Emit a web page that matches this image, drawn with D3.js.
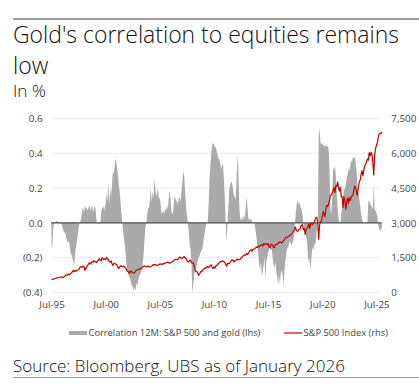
<!DOCTYPE html>
<html>
<head>
<meta charset="utf-8">
<script src="https://cdn.jsdelivr.net/npm/d3@7"></script>
<style>
  html, body { margin: 0; padding: 0; background: #fff; }
  svg { display: block; font-family: "Open Sans", "Noto Sans", sans-serif; }
</style>
</head>
<body>
<script>
// ---------- DATA ----------
const startMonth = "1995-07";           // first monthly observation
const titleLines = ["Gold's correlation to equities remains", "low"];
const subtitle = "In %";
const sourceText = "Source: Bloomberg, UBS as of January 2026";
const seriesNames = ["Correlation 12M: S&P 500 and gold (lhs)", "S&P 500 Index (rhs)"];

// 12M rolling correlation S&P 500 vs gold (monthly, Jul-1995 .. Jan-2026)
const corr = [
  -0.15, -0.12, -0.02, 0.0, 0.005, 0.01,                                   // 1995 H2
  0.01, 0.005, 0.0, -0.005, 0.005, 0.0, -0.02, -0.04, -0.06, -0.05, -0.08, -0.10, // 1996
  -0.12, -0.10, -0.13, -0.17, -0.18, -0.20, -0.22, -0.25, -0.18, -0.14, -0.11, -0.07, // 1997
  -0.03, 0.0, 0.01, 0.03, 0.07, 0.09, 0.06, 0.10, 0.08, 0.09, 0.07, 0.09,     // 1998
  0.10, 0.07, 0.09, 0.10, 0.06, 0.08, 0.10, 0.07, 0.0, -0.005, 0.0, -0.005,   // 1999
  0.0, 0.06, 0.09, 0.08, 0.10, 0.07, 0.12, 0.17, 0.12, 0.23, 0.10, 0.20,      // 2000
  0.15, 0.22, 0.30, 0.28, 0.33, 0.37, 0.34, 0.30, 0.25, 0.20, 0.15, 0.08,     // 2001
  0.02, -0.03, -0.08, -0.12, -0.17, -0.24, -0.28, -0.29, -0.31, -0.32, -0.34, -0.36, // 2002
  -0.37, -0.39, -0.37, -0.39, -0.35, -0.36, -0.33, -0.31, -0.30, -0.29, -0.27, -0.24, // 2003
  -0.18, -0.10, -0.03, 0.0, 0.05, 0.09, 0.08, 0.13, 0.20, 0.12, 0.18, 0.14,  // 2004
  0.25, 0.20, 0.15, 0.17, 0.20, 0.13, 0.15, 0.10, 0.05, 0.06, 0.07, 0.05,     // 2005
  0.08, 0.07, 0.10, 0.08, 0.15, 0.19, 0.12, 0.06, 0.05, 0.08, 0.14, 0.15,     // 2006
  0.12, 0.13, 0.10, 0.14, 0.15, 0.12, 0.18, 0.24, 0.30, 0.27, 0.18, 0.10,     // 2007
  0.04, 0.0, -0.05, -0.12, -0.15, -0.22, -0.40, -0.36, -0.30, -0.27, -0.26, -0.24, // 2008
  -0.22, -0.20, -0.19, -0.17, -0.16, -0.15, -0.12, -0.08, -0.05, -0.01, 0.0, 0.0, // 2009
  0.10, 0.25, 0.33, 0.40, 0.44, 0.46, 0.45, 0.43, 0.44, 0.41, 0.39, 0.37,     // 2010
  0.36, 0.34, 0.31, 0.33, 0.34, 0.25, 0.15, 0.0, -0.11, 0.0, 0.10, 0.20,      // 2011
  0.22, 0.24, 0.23, 0.20, 0.16, 0.15, 0.13, 0.25, 0.39, 0.30, 0.10, 0.02,     // 2012
  0.02, 0.04, 0.01, 0.05, 0.02, 0.08, 0.15, 0.10, 0.03, 0.01, 0.03, 0.02,     // 2013
  0.01, 0.0, 0.005, 0.0, -0.04, -0.08, -0.13, -0.17, -0.24, -0.27, -0.22, -0.31, // 2014
  -0.28, -0.24, -0.20, -0.33, -0.22, -0.20, -0.17, -0.15, -0.14, -0.16, -0.15, -0.20, // 2015
  -0.24, -0.26, -0.22, -0.28, -0.31, -0.36, -0.30, -0.35, -0.29, -0.27, -0.30, -0.36, // 2016
  -0.28, -0.22, -0.18, -0.14, -0.15, -0.12, -0.10, -0.12, -0.13, -0.11, -0.10, -0.06, // 2017
  0.02, 0.08, 0.12, 0.13, 0.10, 0.12, 0.09, 0.08, 0.05, 0.0, -0.03, -0.06,    // 2018
  -0.08, -0.10, -0.18, -0.23, -0.20, -0.27, -0.20, -0.14, -0.16, -0.12, -0.13, -0.10, // 2019
  -0.03, 0.0, 0.50, 0.54, 0.46, 0.45, 0.46, 0.44, 0.45, 0.43, 0.45, 0.44,    // 2020
  0.44, 0.42, 0.30, 0.08, 0.05, 0.15, 0.32, 0.30, 0.33, 0.27, 0.18, 0.08,     // 2021
  0.03, 0.0, 0.0, 0.05, 0.10, 0.15, 0.18, 0.20, 0.22, 0.25, 0.28, 0.31,       // 2022
  0.30, 0.33, 0.36, 0.35, 0.38, 0.37, 0.38, 0.34, 0.30, 0.20, 0.17, 0.14,     // 2023
  0.10, 0.05, 0.03, 0.0, 0.0, 0.0, 0.0, 0.005, 0.0, 0.12, 0.13, 0.11,         // 2024
  0.10, 0.09, 0.08, 0.22, 0.08, 0.07, 0.06, 0.04, -0.01, -0.03, -0.05, -0.04, // 2025
  -0.03                                                                        // 2026 Jan
];

// S&P 500 index level (monthly, Jul-1995 .. Jan-2026)
const spx = [
  562, 562, 584, 582, 605, 616,                                               // 1995 H2
  636, 640, 646, 654, 669, 671, 640, 652, 687, 705, 757, 741,                 // 1996
  786, 791, 757, 801, 848, 885, 954, 899, 947, 915, 955, 970,                 // 1997
  980, 1049, 1102, 1112, 1091, 1134, 1121, 957, 1017, 1099, 1164, 1229,       // 1998
  1280, 1238, 1286, 1335, 1302, 1373, 1329, 1320, 1283, 1363, 1389, 1469,     // 1999
  1394, 1366, 1499, 1452, 1421, 1455, 1431, 1518, 1437, 1429, 1315, 1320,     // 2000
  1366, 1240, 1160, 1249, 1256, 1224, 1211, 1134, 1041, 1060, 1139, 1148,     // 2001
  1130, 1107, 1147, 1077, 1067, 990, 912, 916, 815, 886, 936, 880,            // 2002
  856, 841, 848, 917, 964, 975, 990, 1008, 996, 1051, 1058, 1112,             // 2003
  1131, 1145, 1126, 1107, 1121, 1141, 1102, 1104, 1115, 1130, 1174, 1212,     // 2004
  1181, 1204, 1181, 1157, 1192, 1191, 1234, 1220, 1229, 1207, 1249, 1248,     // 2005
  1280, 1281, 1295, 1311, 1270, 1270, 1277, 1304, 1336, 1378, 1401, 1418,     // 2006
  1438, 1407, 1421, 1482, 1531, 1503, 1455, 1474, 1527, 1549, 1481, 1468,     // 2007
  1379, 1331, 1323, 1386, 1400, 1280, 1267, 1283, 1166, 969, 896, 903,        // 2008
  826, 735, 798, 873, 919, 919, 987, 1021, 1057, 1036, 1096, 1115,            // 2009
  1074, 1104, 1169, 1187, 1089, 1031, 1102, 1049, 1141, 1183, 1181, 1258,     // 2010
  1286, 1327, 1326, 1364, 1345, 1321, 1292, 1219, 1131, 1253, 1247, 1258,     // 2011
  1312, 1366, 1408, 1398, 1310, 1362, 1379, 1407, 1441, 1412, 1416, 1426,     // 2012
  1498, 1515, 1569, 1598, 1631, 1606, 1686, 1633, 1682, 1757, 1806, 1848,     // 2013
  1783, 1859, 1872, 1884, 1924, 1960, 1931, 2003, 1972, 2018, 2068, 2059,     // 2014
  1995, 2105, 2068, 2086, 2107, 2063, 2104, 1972, 1920, 2079, 2080, 2044,     // 2015
  1940, 1932, 2060, 2065, 2097, 2099, 2174, 2171, 2168, 2126, 2199, 2239,     // 2016
  2279, 2364, 2363, 2384, 2412, 2423, 2470, 2472, 2519, 2575, 2648, 2674,     // 2017
  2824, 2714, 2641, 2648, 2705, 2718, 2816, 2902, 2914, 2712, 2760, 2507,     // 2018
  2704, 2784, 2834, 2946, 2752, 2942, 2980, 2926, 2977, 3038, 3141, 3231,     // 2019
  3226, 2954, 2300, 2912, 3044, 3100, 3271, 3500, 3363, 3270, 3622, 3756,     // 2020
  3714, 3811, 3973, 4181, 4204, 4298, 4395, 4523, 4308, 4605, 4567, 4766,     // 2021
  4516, 4374, 4530, 4132, 4132, 3667, 4130, 3955, 3586, 3872, 4080, 3840,     // 2022
  4077, 3970, 4109, 4169, 4180, 4450, 4589, 4508, 4288, 4194, 4568, 4770,     // 2023
  4846, 5096, 5254, 5036, 5278, 5460, 5522, 5648, 5762, 5705, 6032, 5882,     // 2024
  6041, 5955, 5612, 5070, 5912, 6205, 6339, 6460, 6688, 6840, 6849, 6845,     // 2025
  6930                                                                         // 2026 Jan
];

const leftTicks = [-0.4, -0.2, 0.0, 0.2, 0.4, 0.6];
const rightTicks = [0, 1500, 3000, 4500, 6000, 7500];
const xTickYears = [1995, 2000, 2005, 2010, 2015, 2020, 2025];

// ---------- LAYOUT ----------
const W = 419, H = 390;
const plot = { left: 51.5, right: 382.3, top: 118.5, bottom: 292.5 };
const colors = { bar: "#aaaaaa", line: "#c80000", zero: "#4d4d4d", grid: "#ececec", text: "#444" };
const FONT = "'Open Sans', 'Noto Sans', sans-serif";

const svg = d3.select("body").append("svg").attr("width", W).attr("height", H)
  .attr("font-family", FONT);

// fit a text element's font-size so that its width equals target
function fit(sel, target) {
  const node = sel.node();
  const fs = parseFloat(sel.attr("font-size"));
  const w = node.getComputedTextLength();
  if (w > 0) sel.attr("font-size", (fs * target / w).toFixed(2));
  return sel;
}

const parseMonth = d3.timeParse("%Y-%m");
const t0 = parseMonth(startMonth);
const dates = corr.map((_, i) => d3.timeMonth.offset(t0, i));

const x = d3.scaleTime()
  .domain([t0, new Date(2026, 0, 15)])
  .range([plot.left, plot.right]);
const yL = d3.scaleLinear().domain([-0.4, 0.6]).range([plot.bottom, plot.top]);
const yR = d3.scaleLinear().domain([0, 7500]).range([plot.bottom, plot.top]);

// top rule
svg.append("line").attr("x1", 13).attr("x2", W).attr("y1", 19).attr("y2", 19)
  .attr("stroke", "#3a3a3a").attr("stroke-width", 1);

// title
const t1 = svg.append("text").attr("x", 13).attr("y", 43).attr("font-size", 22).attr("font-weight", 300)
  .attr("fill", "#111").text(titleLines[0]);
fit(t1, 386);
svg.append("text").attr("x", 13).attr("y", 74).attr("font-size", t1.attr("font-size")).attr("font-weight", 300)
  .attr("fill", "#111").text(titleLines[1]);
const st = svg.append("text").attr("x", 13).attr("y", 97).attr("font-size", 14).attr("font-weight", 300)
  .attr("fill", "#111").text(subtitle);
fit(st, 33);

// gridlines
svg.append("g").selectAll("line").data(leftTicks.filter(v => v !== 0)).join("line")
  .attr("x1", plot.left).attr("x2", 380)
  .attr("y1", d => yL(d)).attr("y2", d => yL(d))
  .attr("stroke", colors.grid).attr("stroke-width", 1);

// correlation area (dense columns)
const area = d3.area()
  .x((d, i) => x(dates[i]))
  .y0(yL(0))
  .y1(d => yL(d));
svg.append("path").datum(corr).attr("d", area).attr("fill", colors.bar).attr("stroke", "none");

// zero line
svg.append("line").attr("x1", plot.left - 0.5).attr("x2", 381.5)
  .attr("y1", yL(0)).attr("y2", yL(0))
  .attr("stroke", colors.zero).attr("stroke-width", 1.4);

// S&P line
const line = d3.line().x((d, i) => x(dates[i])).y(d => yR(d));
svg.append("path").datum(spx).attr("d", line).attr("fill", "none")
  .attr("stroke", colors.line).attr("stroke-width", 1.2).attr("stroke-linejoin", "round");

// axes
const fmtL = v => v < 0 ? `(${Math.abs(v).toFixed(1)})` : v.toFixed(1);
const gL = svg.append("g").attr("transform", `translate(${plot.left},0)`)
  .call(d3.axisLeft(yL).tickValues(leftTicks).tickFormat(fmtL).tickSize(0).tickPadding(9));
const gR = svg.append("g").attr("transform", `translate(${plot.right},0)`)
  .call(d3.axisRight(yR).tickValues(rightTicks).tickFormat(d3.format(",")).tickSize(0).tickPadding(9));
const gX = svg.append("g").attr("transform", `translate(0,${plot.bottom})`)
  .call(d3.axisBottom(x).tickValues(xTickYears.map(y => new Date(y, 6, 1)))
    .tickFormat(d3.timeFormat("Jul-%y")).tickSize(0).tickPadding(8.5));

// measure tick font size from the "7,500" label (target width 25px)
const probe = svg.append("text").attr("font-size", 11).text("7,500");
fit(probe, 25);
const tickFs = probe.attr("font-size");
probe.remove();
[gL, gR, gX].forEach(g => {
  g.select(".domain").remove();
  g.selectAll("text").attr("font-size", tickFs).attr("fill", colors.text)
    .attr("font-family", FONT);
});

// legend
const ly = 333;
const lg = svg.append("g");
lg.append("rect").attr("x", 69).attr("y", ly - 2).attr("width", 18).attr("height", 4).attr("fill", colors.bar);
const l1 = lg.append("text").attr("x", 88.5).attr("y", ly).attr("dy", "0.35em").attr("font-size", 10)
  .attr("fill", colors.text).text(seriesNames[0]);
fit(l1, 172);
lg.append("line").attr("x1", 284).attr("x2", 302).attr("y1", ly).attr("y2", ly)
  .attr("stroke", colors.line).attr("stroke-width", 1.2);
lg.append("text").attr("x", 303.5).attr("y", ly).attr("dy", "0.35em").attr("font-size", l1.attr("font-size"))
  .attr("fill", colors.text).text(seriesNames[1]);

// source
const src = svg.append("text").attr("x", 13).attr("y", 372).attr("font-size", 17).attr("font-weight", 300)
  .attr("fill", "#111").text(sourceText);
fit(src, 332);
svg.append("line").attr("x1", 13).attr("x2", W).attr("y1", 377.5).attr("y2", 377.5)
  .attr("stroke", "#9a9a9a").attr("stroke-width", 1);
</script>
</body>
</html>
